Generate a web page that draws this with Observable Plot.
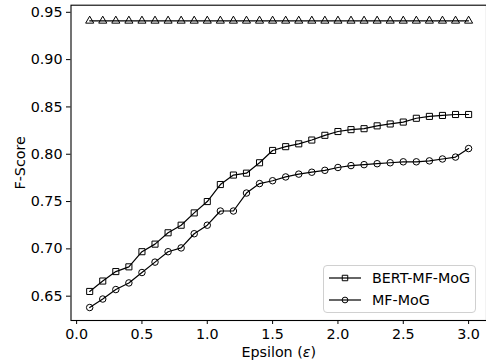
<!DOCTYPE html>
<html><head><meta charset="utf-8">
<script src="https://cdn.jsdelivr.net/npm/d3@7"></script>
<script src="https://cdn.jsdelivr.net/npm/@observablehq/plot@0.6"></script>
<style>
body{margin:0;background:#fff;}
#wrap{position:relative;width:486px;height:363px;font-family:"DejaVu Sans",sans-serif;overflow:hidden;}
#legend{position:absolute;left:323px;top:265px;width:153px;height:48px;border:1px solid #d0d0d0;border-radius:4px;background:rgba(255,255,255,0.85);box-sizing:border-box;font-size:14.3px;color:#000;}
.row{position:absolute;left:0;height:20px;display:flex;align-items:center;}
.row svg{margin-left:4px;}
.row span{margin-left:10px;white-space:nowrap;}
</style>
</head><body>
<div id="wrap"></div>
<script>
const epsilon = [0.1,0.2,0.3,0.4,0.5,0.6,0.7,0.8,0.9,1.0,1.1,1.2,1.3,1.4,1.5,1.6,1.7,1.8,1.9,2.0,2.1,2.2,2.3,2.4,2.5,2.6,2.7,2.8,2.9,3.0];
const bertMfMog = [0.655,0.666,0.676,0.681,0.697,0.705,0.717,0.725,0.738,0.750,0.768,0.778,0.780,0.791,0.804,0.808,0.811,0.815,0.820,0.824,0.826,0.827,0.830,0.832,0.834,0.838,0.840,0.841,0.842,0.842];
const mfMog = [0.638,0.647,0.657,0.664,0.675,0.686,0.697,0.701,0.716,0.725,0.740,0.740,0.759,0.769,0.772,0.776,0.779,0.781,0.783,0.786,0.788,0.789,0.790,0.791,0.792,0.792,0.793,0.795,0.797,0.806];
const upperBound = [0.941,0.941,0.941,0.941,0.941,0.941,0.941,0.941,0.941,0.941,0.941,0.941,0.941,0.941,0.941,0.941,0.941,0.941,0.941,0.941,0.941,0.941,0.941,0.941,0.941,0.941,0.941,0.941,0.941,0.941];
const seriesNames = ["BERT-MF-MoG","MF-MoG","Upper"];
const xTicks = [0,0.5,1.0,1.5,2.0,2.5,3.0];
const yTicks = [0.65,0.70,0.75,0.80,0.85,0.90,0.95];

const rows = [];
epsilon.forEach((e,i)=>{
  rows.push({e, v: bertMfMog[i], s: seriesNames[0]});
  rows.push({e, v: mfMog[i], s: seriesNames[1]});
  rows.push({e, v: upperBound[i], s: seriesNames[2]});
});
const symbolOf = {"BERT-MF-MoG":"square","MF-MoG":"circle","Upper":"triangle"};
const radiusOf = {"BERT-MF-MoG":3.8,"MF-MoG":3.4,"Upper":2.9};

const chart = Plot.plot({
  width: 486, height: 363,
  marginLeft: 70.5, marginRight: 0, marginTop: 4.7, marginBottom: 43,
  style: {fontFamily: "DejaVu Sans", fontSize: "14.3px", color: "#000", background: "#fff"},
  x: {domain: [-0.043, 3.137]},
  y: {domain: [0.6243, 0.9575]},
  marks: [
    Plot.axisX({ticks: xTicks, tickFormat: d => d.toFixed(1), tickSize: 4, tickPadding: 4.3, label: "Epsilon (ε)", labelAnchor: "center", labelArrow: "none", labelOffset: 36}),
    Plot.axisY({ticks: yTicks, tickFormat: d => d.toFixed(2), tickSize: 4.5, tickPadding: 4, label: "F-Score", labelAnchor: "center", labelArrow: "none", labelOffset: 56}),
    Plot.lineY(rows, {x: "e", y: "v", z: "s", stroke: "#000", strokeWidth: 1.2}),
    Plot.dot(rows, {x: "e", y: "v", symbol: d => symbolOf[d.s], stroke: "#000", fill: "none", strokeWidth: 1, r: d => radiusOf[d.s]}),
    Plot.frame({stroke: "#000", strokeWidth: 1.1})
  ]
});
document.getElementById("wrap").appendChild(chart);

// italic epsilon in x label
d3.select(chart).selectAll("text").each(function(){
  const t = d3.select(this);
  if (this.textContent === "Epsilon (ε)") {
    t.text("");
    t.append("tspan").text("Epsilon (");
    t.append("tspan").attr("font-style","italic").text("ε");
    t.append("tspan").text(")");
  }
});

// legend
const legend = d3.select("#wrap").append("div").attr("id","legend");
const legendItems = [
  {name: seriesNames[0], sym: d3.symbolSquare, size: 30, top: 2},
  {name: seriesNames[1], sym: d3.symbolCircle, size: 26, top: 24}
];
legendItems.forEach(it=>{
  const row = legend.append("div").attr("class","row").style("top", it.top+"px");
  const svg = row.append("svg").attr("width",34).attr("height",20);
  svg.append("line").attr("x1",1).attr("x2",33).attr("y1",10).attr("y2",10).attr("stroke","#000").attr("stroke-width",1.2);
  svg.append("path").attr("d", d3.symbol(it.sym, it.size)()).attr("transform","translate(17,10)").attr("fill","none").attr("stroke","#000");
  row.append("span").text(it.name);
});
</script>
</body></html>
